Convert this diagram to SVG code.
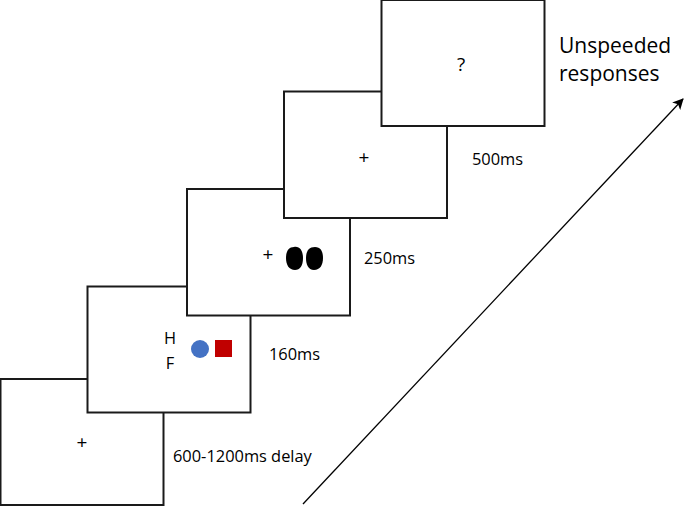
<svg xmlns="http://www.w3.org/2000/svg" width="685" height="506" viewBox="0 0 685 506">
<defs>
<style>
.box{fill:#fff;stroke:#1a1a1a;stroke-width:2}
.t{font-family:"Open Sans","Liberation Sans",sans-serif;fill:#000}
.lbl{font-size:16.4px}
.sym{font-size:19px}
.big{font-size:21px}
</style>
<marker id="ah" markerWidth="11" markerHeight="11" refX="10" refY="5.5" orient="auto" markerUnits="userSpaceOnUse">
<path d="M0,0 L11,5.5 L0,11 L2.8,5.5 Z" fill="#000"/>
</marker>
</defs>
<rect width="685" height="506" fill="#fff"/>
<g id="connectors">
<line x1="303" y1="504" x2="683" y2="99" stroke="#000" stroke-width="1.3" marker-end="url(#ah)"/>
</g>
<g id="frame1">
<rect class="box" x="0.5" y="379" width="163" height="126"/>
<text class="t sym" x="82" y="449" text-anchor="middle">+</text>
<text class="t lbl" x="173" y="462">600-1200ms delay</text>
</g>
<g id="frame2">
<rect class="box" x="87.5" y="286.5" width="163" height="126"/>
<text class="t lbl" x="170" y="344" text-anchor="middle">H</text>
<text class="t lbl" x="170" y="369" text-anchor="middle">F</text>
<circle cx="200" cy="349" r="9" fill="#4472C4"/>
<rect x="215" y="340" width="17" height="17" fill="#C00000"/>
<text class="t lbl" x="269" y="360">160ms</text>
</g>
<g id="frame3">
<rect class="box" x="187" y="189" width="163" height="126.5"/>
<text class="t sym" x="268" y="261" text-anchor="middle">+</text>
<path d="M294,247 C300,246 303,251 303,258 C303,266 300,270 295,270 C289,270 286,265 286,258 C286,251 289,247 294,247 Z" fill="#000"/>
<path d="M315,247 C321,247 323,252 323,258 C323,265 320,270 314,270 C308,270 306,264 306,258 C306,251 309,247 315,247 Z" fill="#000"/>
<text class="t lbl" x="364" y="264">250ms</text>
</g>
<g id="frame4">
<rect class="box" x="284" y="91.5" width="163" height="126.5"/>
<text class="t sym" x="364" y="164" text-anchor="middle">+</text>
<text class="t lbl" x="472" y="165">500ms</text>
</g>
<g id="frame5">
<rect class="box" x="381.5" y="0" width="163" height="126"/>
<text class="t sym" x="461" y="71" text-anchor="middle">?</text>
</g>
<g id="caption">
<text class="t big" x="559" y="53">Unspeeded</text>
<text class="t big" x="559" y="81">responses</text>
</g>
</svg>
